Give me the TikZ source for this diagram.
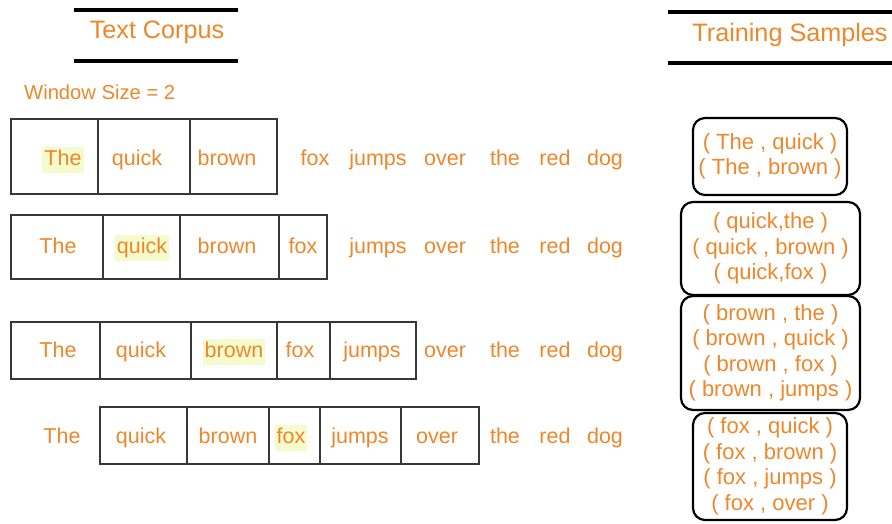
\documentclass[tikz,border=0pt]{standalone}
\usepackage{fontspec}
\setmainfont{Liberation Sans}
\definecolor{wordorange}{RGB}{238,134,42}
\definecolor{hlyellow}{RGB}{246,251,206}
\definecolor{cellgray}{RGB}{55,55,55}
\tikzset{
  word/.style={text=wordorange, font=\fontsize{21.5}{25}\selectfont, anchor=base, inner sep=0pt},
  plainword/.style={},
  centerword/.style={fill=hlyellow, text height=16pt, text depth=5pt, inner xsep=2pt, inner ysep=2.5pt},
  cell/.style={draw=cellgray, line width=1.2pt},
  titlebar/.style={line width=3.5pt, black},
  titletext/.style={text=wordorange, font=\fontsize{25.2}{28}\selectfont, anchor=base},
  pairbox/.style={draw=black, line width=2.2pt, rounded corners=12pt, align=center,
    text=wordorange, font=\fontsize{22}{25.5}\selectfont, inner sep=0pt}
}
\begin{document}
\begin{tikzpicture}[x=1pt,y=-1pt]
\useasboundingbox (0,0) rectangle (892,523);

% headings
\draw[titlebar] (74,10) -- (238,10);
\draw[titlebar] (74,61) -- (238,61);
\node[titletext] (corpus) at (157,38) {Text Corpus};
\draw[titlebar] (668,12) -- (892,12);
\draw[titlebar] (668,63) -- (892,63);
\node[titletext] (samples) at (790,41) {Training Samples};
\node[text=wordorange, font=\fontsize{20.2}{23}\selectfont, anchor=base west, inner sep=0pt] (window) at (24,99) {Window Size = 2};

% window cells for each centre word
\foreach \a/\b in {11/98,98/190,190/277}
  \draw[cell] (\a,119) rectangle (\b,194);
\foreach \a/\b in {11/103,103/180,180/279,279/327}
  \draw[cell] (\a,215) rectangle (\b,279);
\foreach \a/\b in {11/100,100/191,191/277,277/330,330/416}
  \draw[cell] (\a,322) rectangle (\b,379);
\foreach \a/\b in {100/187,187/269,269/320,320/401,401/479}
  \draw[cell] (\a,407) rectangle (\b,464);

% sentence rows
\foreach \x/\w/\s [count=\i] in {63/The/centerword,137/quick/plainword,227/brown/plainword,315/fox/plainword,378/jumps/plainword,445/over/plainword,505/the/plainword,555/red/plainword,605/dog/plainword}
  \node[word,\s] (ra\i) at (\x,165) {\w};
\foreach \x/\w/\s [count=\i] in {58/The/plainword,142/quick/centerword,227/brown/plainword,303/fox/plainword,378/jumps/plainword,445/over/plainword,505/the/plainword,555/red/plainword,605/dog/plainword}
  \node[word,\s] (rb\i) at (\x,253) {\w};
\foreach \x/\w/\s [count=\i] in {58/The/plainword,141/quick/plainword,234/brown/centerword,300/fox/plainword,372/jumps/plainword,445/over/plainword,505/the/plainword,555/red/plainword,605/dog/plainword}
  \node[word,\s] (rc\i) at (\x,357) {\w};
\foreach \x/\w/\s [count=\i] in {62/The/plainword,141/quick/plainword,228/brown/plainword,291/fox/centerword,360/jumps/plainword,437/over/plainword,505/the/plainword,555/red/plainword,605/dog/plainword}
  \node[word,\s] (rd\i) at (\x,443) {\w};

% training pairs
\node[pairbox, minimum width=154pt, minimum height=77pt] (pa) at (770,156.5)
  {( The , quick )\\( The , brown )};
\node[pairbox, minimum width=179pt, minimum height=93pt] (pb) at (770.5,248.5)
  {( quick,the )\\( quick , brown )\\( quick,fox )};
\node[pairbox, minimum width=179pt, minimum height=114pt] (pc) at (770.5,353)
  {( brown , the )\\( brown , quick )\\( brown , fox )\\( brown , jumps )};
\node[pairbox, minimum width=154pt, minimum height=107pt] (pd) at (770,466.5)
  {( fox , quick )\\( fox , brown )\\( fox , jumps )\\( fox , over )};
\end{tikzpicture}
\end{document}
